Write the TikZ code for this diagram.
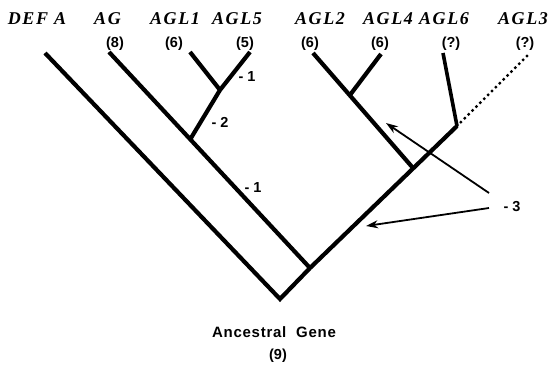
\documentclass[tikz,border=0pt]{standalone}
\usepackage{fontspec}
\setmainfont{Liberation Serif}
\setsansfont{Liberation Sans}
\usetikzlibrary{arrows.meta}
\newfontfamily\genefont[LetterSpace=9]{Liberation Serif}
\newfontfamily\numfont{Liberation Sans}
\newfontfamily\ancfont[LetterSpace=5]{Liberation Sans}
\begin{document}
\begin{tikzpicture}[x=1pt,y=-1pt,
  branch/.style={line width=4.2pt, line join=miter},
  dottedbranch/.style={line width=3.4pt, line cap=round, dash pattern=on 0pt off 5.5pt},
  pointer/.style={line width=1.8pt, -{Stealth[length=12pt,width=8pt]}},
  gene/.style={inner sep=0pt, font=\genefont\bfseries\itshape\fontsize{18}{20}\selectfont},
  count/.style={inner sep=0pt, font=\numfont\bfseries\fontsize{14.5}{16}\selectfont},
  change/.style={inner sep=0pt, font=\numfont\bfseries\fontsize{14.5}{16}\selectfont},
  ancestor/.style={inner sep=0pt, font=\ancfont\bfseries\fontsize{15}{17}\selectfont}]
\useasboundingbox (0,0) rectangle (556,365);
% tips and junctions
\coordinate (root) at (280,299);
\coordinate (J1) at (310,268);
\coordinate (J5) at (457,126);
\coordinate (J4) at (413,168);
\coordinate (tDEF) at (45,53);
\coordinate (tAG) at (109,52);
\coordinate (J2) at (191,138);
\coordinate (tAGL1) at (190,52);
\coordinate (J3) at (220,90);
\coordinate (tAGL5) at (250,52);
\coordinate (tAGL2) at (313,53);
\coordinate (J6) at (350,95);
\coordinate (tAGL4) at (381,54);
\coordinate (tAGL6) at (443,53);
\coordinate (tAGL3) at (528,55);
% branches
\draw[branch] (tDEF) -- (root) -- (J1) -- (J5);
\draw[branch] (tAG) -- (J1);
\draw[branch] (tAGL5) -- (J3) -- (J2);
\draw[branch] (tAGL1) -- (J3);
\draw[branch] (tAGL2) -- (J4);
\draw[branch] (tAGL4) -- (J6);
\draw[branch, line width=3.6pt] (tAGL6) -- (J5);
\draw[dottedbranch] (J5) -- (tAGL3);
% labels
\node[gene] (lDEF) at (37,18.5) {DEF A};
\node[gene] (lAG) at (107.5,18.5) {AG};
\node[gene] (lAGL1) at (175,18.5) {AGL1};
\node[gene] (lAGL5) at (237,18.5) {AGL5};
\node[gene] (lAGL2) at (320,18.5) {AGL2};
\node[gene] (lAGL4) at (388,18.5) {AGL4};
\node[gene] (lAGL6) at (444,18.5) {AGL6};
\node[gene] (lAGL3) at (523,18.5) {AGL3};
\node[count] (cAG) at (115,44) {(8)};
\node[count] (cAGL1) at (174,44) {(6)};
\node[count] (cAGL5) at (245,44) {(5)};
\node[count] (cAGL2) at (310,44) {(6)};
\node[count] (cAGL4) at (380,44) {(6)};
\node[count] (cAGL6) at (451,44) {(?)};
\node[count] (cAGL3) at (525,44) {(?)};
\node[change] (m1a) at (247,77) {- 1};
\node[change] (m2) at (220,122) {- 2};
\node[change] (m1b) at (253,188) {- 1};
\node[change] (m3) at (512,207) {- 3};
\node[ancestor] (anc) at (274,332.5) {Ancestral\ \ Gene};
\node[count] (anc9) at (278,356) {(9)};
% pointers
\coordinate (p1s) at (489,193);
\coordinate (p1e) at (386,123);
\coordinate (p2s) at (489,208);
\coordinate (p2e) at (366,226);
\draw[pointer] (p1s) -- (p1e);
\draw[pointer] (p2s) -- (p2e);
\end{tikzpicture}
\end{document}
